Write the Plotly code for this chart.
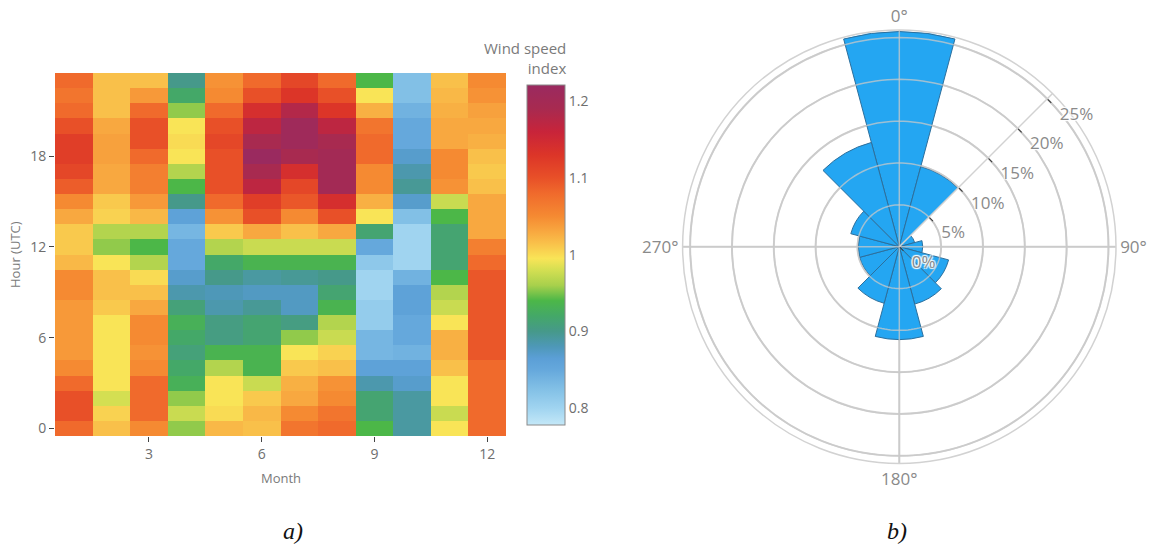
import plotly.graph_objects as go

W, H = 1152, 546

# ---- heatmap data: wind speed index per hour (0..23 UTC) for each month ----
months = list(range(1, 13))
hours = list(range(24))

jan = [1.08, 1.10, 1.10, 1.08, 1.05, 1.04, 1.04, 1.04, 1.04, 1.05, 1.05, 1.02,
       1.01, 1.01, 1.03, 1.05, 1.09, 1.11, 1.12, 1.12, 1.10, 1.08, 1.07, 1.08]
feb = [1.015, 1.005, 0.98, 0.995, 0.995, 0.995, 0.995, 0.995, 1.01, 1.015, 1.015, 0.995,
       0.955, 0.965, 1.005, 1.01, 1.03, 1.03, 1.035, 1.035, 1.03, 1.015, 1.015, 1.015]
mar = [1.05, 1.08, 1.08, 1.08, 1.05, 1.045, 1.05, 1.05, 1.03, 1.015, 1.0, 0.965,
       0.94, 0.965, 1.02, 1.04, 1.06, 1.06, 1.08, 1.10, 1.10, 1.08, 1.04, 1.015]
apr = [0.955, 0.975, 0.955, 0.93, 0.92, 0.91, 0.92, 0.93, 0.91, 0.885, 0.87, 0.85,
       0.85, 0.835, 0.86, 0.90, 0.94, 0.965, 0.995, 1.0, 0.995, 0.955, 0.92, 0.90]
may = [1.02, 1.0, 0.995, 0.995, 0.965, 0.935, 0.905, 0.905, 0.885, 0.88, 0.90, 0.92,
       0.965, 1.01, 1.045, 1.08, 1.10, 1.10, 1.10, 1.11, 1.10, 1.08, 1.05, 1.045]
jun = [1.015, 1.02, 1.01, 0.975, 0.935, 0.935, 0.915, 0.915, 0.895, 0.875, 0.89, 0.935,
       0.975, 1.03, 1.10, 1.12, 1.17, 1.19, 1.22, 1.19, 1.17, 1.14, 1.10, 1.08]
jul = [1.07, 1.05, 1.03, 1.025, 1.01, 0.995, 0.955, 0.905, 0.875, 0.875, 0.895, 0.935,
       0.975, 1.015, 1.05, 1.095, 1.11, 1.14, 1.19, 1.21, 1.21, 1.18, 1.13, 1.11]
aug = [1.08, 1.07, 1.05, 1.045, 1.015, 1.005, 0.975, 0.965, 0.935, 0.915, 0.90, 0.935,
       0.975, 1.03, 1.10, 1.14, 1.20, 1.20, 1.20, 1.19, 1.17, 1.13, 1.10, 1.08]
sep = [0.94, 0.915, 0.915, 0.885, 0.86, 0.835, 0.835, 0.81, 0.81, 0.80, 0.80, 0.815,
       0.85, 0.915, 0.995, 1.025, 1.05, 1.05, 1.08, 1.08, 1.07, 1.025, 0.995, 0.94]
oct_ = [0.89, 0.89, 0.89, 0.87, 0.86, 0.84, 0.85, 0.85, 0.86, 0.86, 0.84, 0.80,
        0.80, 0.80, 0.825, 0.87, 0.895, 0.885, 0.87, 0.85, 0.85, 0.84, 0.825, 0.825]
nov = [0.995, 0.975, 0.995, 0.995, 1.015, 1.025, 1.025, 0.995, 0.975, 0.965, 0.94, 0.915,
       0.915, 0.915, 0.94, 0.975, 1.045, 1.05, 1.05, 1.03, 1.03, 1.025, 1.02, 1.015]
dec = [1.08, 1.08, 1.08, 1.08, 1.08, 1.095, 1.095, 1.095, 1.095, 1.095, 1.095, 1.08,
       1.06, 1.03, 1.03, 1.03, 1.015, 1.01, 1.015, 1.025, 1.03, 1.035, 1.045, 1.05]

month_cols = [jan, feb, mar, apr, may, jun, jul, aug, sep, oct_, nov, dec]
z = [list(row) for row in zip(*month_cols)]  # rows = hours, cols = months

z_min, z_max = 0.778, 1.221
cbar_ticks = [0.8, 0.9, 1.0, 1.1, 1.2]
cbar_labels = ["0.8", "0.9", "1", "1.1", "1.2"]

# ---- wind rose data: frequency (%) per 30-degree sector ----
directions = [0, 30, 60, 90, 120, 150, 180, 210, 240, 270, 300, 330]
frequency = [25.7, 9.9, 1.9, 2.8, 6.1, 7.1, 11.1, 7.0, 4.9, 4.9, 6.0, 12.9]
radial_ticks = [0, 5, 10, 15, 20, 25]
compass_ticks = [0, 90, 180, 270]

# colour ramp anchored on index values
ramp = [
    (0.778, "#c4e8f8"), (0.80, "#a0d4f0"), (0.825, "#82c0e6"), (0.85, "#65a8dc"),
    (0.865, "#5b9fd6"), (0.88, "#4e98b8"), (0.90, "#46998a"), (0.92, "#44a868"),
    (0.94, "#4cb748"), (0.96, "#a8d04c"), (0.98, "#d4df52"), (0.995, "#f9e457"),
    (1.015, "#f9c04a"), (1.03, "#f8a840"), (1.05, "#f58a32"), (1.08, "#f06a2c"),
    (1.10, "#e85028"), (1.13, "#dc3528"), (1.16, "#c8243a"), (1.19, "#a82a50"),
    (1.221, "#9a2a60"),
]
colorscale = [[(v - z_min) / (z_max - z_min), c] for v, c in ramp]
colorscale[0][0] = 0.0
colorscale[-1][0] = 1.0


def px_x(p):
    return p / W


def px_y(p):
    return 1 - p / H


def note(text, x, y, size, color, **kw):
    return dict(text=text, x=px_x(x), y=px_y(y), xref="paper", yref="paper",
                xanchor=kw.pop("xanchor", "center"), yanchor=kw.pop("yanchor", "middle"),
                showarrow=False, font=dict(size=size, color=color, **kw.pop("font", {})), **kw)


grey_text = "#7a7a7a"
fig = go.Figure()

fig.add_trace(go.Heatmap(
    x=months, y=hours, z=z, zmin=z_min, zmax=z_max,
    colorscale=colorscale, xgap=0, ygap=0,
    colorbar=dict(
        x=px_x(527), xanchor="left", xpad=0,
        y=px_y(255), yanchor="middle", ypad=0,
        len=340, lenmode="pixels", thickness=38,
        outlinecolor="#8a8a8a", outlinewidth=1,
        tickvals=cbar_ticks, ticktext=cbar_labels,
        tickfont=dict(size=14, color="#6e6e6e"),
    ),
    hoverinfo="skip",
))

# wind rose bars
fig.add_trace(go.Barpolar(
    r=frequency, theta=directions, width=[30] * len(directions),
    marker=dict(color="#24a6f2", line=dict(color="#2d6f9c", width=1)),
    hoverinfo="skip", showlegend=False,
))

# grid drawn again over the bars
grid_col = "rgba(200,200,200,0.75)"
ring_theta = list(range(0, 361, 2))
for rv in radial_ticks[1:]:
    fig.add_trace(go.Scatterpolar(
        r=[rv] * len(ring_theta), theta=ring_theta, mode="lines",
        line=dict(color=grid_col, width=1.5), hoverinfo="skip", showlegend=False,
    ))
for t in (0, 90):
    fig.add_trace(go.Scatterpolar(
        r=[25.9, 0, 25.9], theta=[t, t, t + 180], mode="lines",
        line=dict(color=grid_col, width=1.5), hoverinfo="skip", showlegend=False,
    ))

fig.update_layout(
    width=W, height=H,
    margin=dict(l=0, r=0, t=0, b=0),
    paper_bgcolor="white", plot_bgcolor="white",
    font=dict(family="Open Sans", color=grey_text),
    showlegend=False,
    xaxis=dict(
        domain=[px_x(55), px_x(506)], range=[0.5, 12.5],
        tickvals=[3, 6, 9, 12], ticks="outside", ticklen=5, tickcolor="#444",
        showgrid=False, zeroline=False, showline=False,
        tickfont=dict(size=14, color="#6e6e6e"),
    ),
    yaxis=dict(
        domain=[px_y(436), px_y(73)], range=[-0.5, 23.5],
        tickvals=[0, 6, 12, 18], ticks="outside", ticklen=5, tickcolor="#444",
        showgrid=False, zeroline=False, showline=False,
        tickfont=dict(size=14, color="#6e6e6e"),
    ),
    polar=dict(
        domain=dict(x=[px_x(682.6), px_x(1116)], y=[px_y(463.4), px_y(30)]),
        bgcolor="white",
        angularaxis=dict(
            rotation=90, direction="clockwise",
            tickmode="array", tickvals=compass_ticks,
            ticktext=[f"{t}°" for t in compass_ticks],
            ticks="", showgrid=True, gridcolor="#d2d2d2", gridwidth=1.5,
            showline=True, linecolor="#d2d2d2", linewidth=1.5,
            tickfont=dict(size=17, color="#8a8a8a"),
        ),
        radialaxis=dict(
            range=[0, 25.9], angle=45, tickangle=45,
            tickmode="array", tickvals=radial_ticks,
            ticktext=[f"{t}%" for t in radial_ticks],
            ticks="outside", ticklen=5, tickcolor="#333",
            showline=True, linecolor="#d2d2d2", linewidth=1.5,
            showgrid=True, gridcolor="#d2d2d2", gridwidth=1.5,
            tickfont=dict(size=17, color="#8a8a8a",
                          shadow="1px 1px 1px #fff, -1px -1px 1px #fff, 1px -1px 1px #fff, -1px 1px 1px #fff"),
        ),
    ),
    annotations=[
        note("Hour (UTC)", 15, 255, 13, grey_text, textangle=-90),
        note("Month", 281, 478, 13, grey_text),
        note("Wind speed<br>index", 568, 36, 15, grey_text,
             xanchor="right", yanchor="top", align="right"),
        note("a)", 293, 531, 24, "#111", font=dict(family="Liberation Serif", style="italic")),
        note("b)", 897, 531, 24, "#111", font=dict(family="Liberation Serif", style="italic")),
    ],
)

fig.write_html("out.html")
